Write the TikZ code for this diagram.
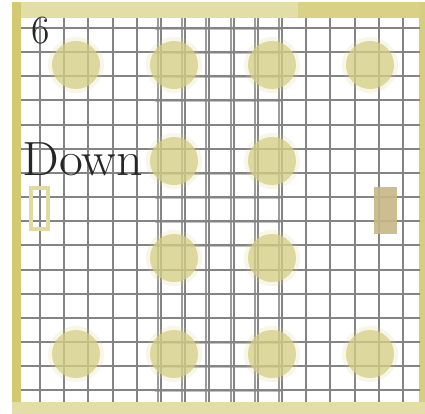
\documentclass[tikz,border=0pt]{standalone}
\usepackage{tikz}
\usetikzlibrary{positioning}

\definecolor{frameolive}{RGB}{210,201,112}
\definecolor{framelight}{RGB}{226,222,166}
\definecolor{spotolive}{RGB}{212,206,134}
\definecolor{tanbox}{RGB}{200,184,134}
\definecolor{gridgray}{RGB}{132,132,132}

\tikzset{
  gridline/.style={gridgray, line width=1pt},
  spot/.style={fill=spotolive, fill opacity=0.75},
  spothalo/.style={fill=spotolive, fill opacity=0.18},
  label/.style={anchor=base west, inner sep=0pt, text=black!85}
}

\begin{document}
\begin{tikzpicture}[x=0.5pt, y=-0.5pt]
    \useasboundingbox[fill=white] (0,0) rectangle (425,414);

    % --- frame ---
    \fill[framelight] (12,2) rectangle (298,18);
    \fill[frameolive!85] (298,2) rectangle (422,18);
    \fill[frameolive] (12,2) rectangle (21,414);
    \fill[frameolive!90] (419,2) rectangle (425,414);
    \fill[framelight] (12,402) rectangle (425,414);

    % --- grid ---
    \foreach \k in {0,...,15} {
      \draw[gridline] ({40+24.2*\k},18) -- ({40+24.2*\k},402);
      \draw[gridline] (21,{28+24.15*\k}) -- (420,{28+24.15*\k});
    }
    % second grid, shifted, over the middle columns
    \foreach \k in {5,...,10} {
      \draw[gridline, opacity=0.8] ({37+24.2*\k},18) -- ({37+24.2*\k},402);
    }
    \foreach \k in {0,...,15} {
      \draw[gridline, opacity=0.5] (155,{28.6+24.15*\k}) -- (283,{28.6+24.15*\k});
    }

    % --- spots ---
    \foreach \p in {(76,65),(174,65),(272,65),(370,65),
                    (174,161),(272,161),(174,258),(272,258),
                    (76,354),(174,354),(272,354),(370,354)} {
      \fill[spothalo] \p circle (28);
      \fill[spot] \p circle (24);
    }

    % --- markers ---
    \draw[framelight!90!frameolive, line width=2pt] (31,188) rectangle (48,229);
    \fill[tanbox, fill opacity=0.9] (374,187) rectangle (397,234);

    % --- labels ---
    \node[label, font=\fontsize{20}{24}\selectfont] (count) at (31,43) {6};
    \node[label, font=\fontsize{24}{28}\selectfont, xscale=1.08] (dir) at (22,175) {Down};
\end{tikzpicture}
\end{document}
